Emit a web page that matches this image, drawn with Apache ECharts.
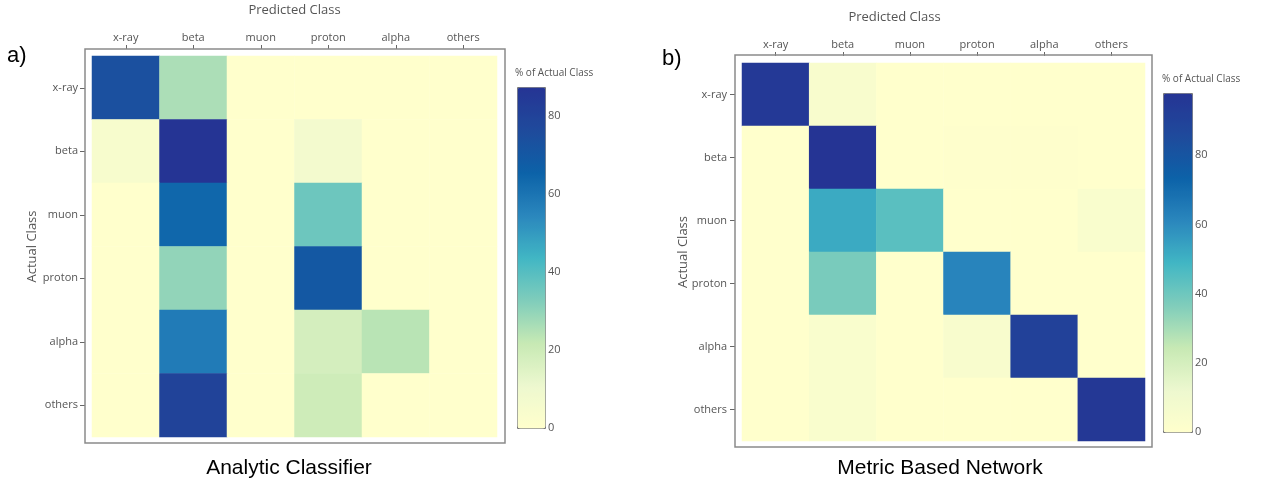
<!DOCTYPE html>
<html>
<head>
<meta charset="utf-8">
<script src="https://cdn.jsdelivr.net/npm/echarts@6/dist/echarts.min.js"></script>
<style>
html,body{margin:0;padding:0;background:#fff;}
#chart{width:1263px;height:486px;}
</style>
</head>
<body>
<div id="chart"></div>
<script>
// ---- data ----
var classes = ['x-ray', 'beta', 'muon', 'proton', 'alpha', 'others'];
// rows = actual class, columns = predicted class (% of actual class)
var analyticXray   = [74, 26, 0, 0, 0, 0];
var analyticBeta   = [5, 87.5, 0, 7.5, 0, 0];
var analyticMuon   = [0, 64, 0, 36, 0, 0];
var analyticProton = [0, 30, 0, 70, 0, 0];
var analyticAlpha  = [0, 58, 0, 18, 24, 0];
var analyticOthers = [0, 80, 0, 20, 0, 0];

var metricXray   = [95, 5, 0, 0, 0, 0];
var metricBeta   = [0, 98, 0, 1, 1, 0];
var metricMuon   = [0, 52, 44, 0, 0, 4];
var metricProton = [0, 38, 0, 62, 0, 0];
var metricAlpha  = [0, 4, 0, 5, 91, 0];
var metricOthers = [0, 4, 0, 0, 0, 96];

var analyticMax = 87.5;
var metricMax = 98;
var colorbarTicks = [0, 20, 40, 60, 80];

var analyticRows = [analyticXray, analyticBeta, analyticMuon, analyticProton, analyticAlpha, analyticOthers];
var metricRows = [metricXray, metricBeta, metricMuon, metricProton, metricAlpha, metricOthers];

function toCells(rows) {
  var out = [];
  rows.forEach(function (row, r) {
    row.forEach(function (v, c) { out.push([c, r, v]); });
  });
  return out;
}

var palette = ['#ffffcc', '#edf8cf', '#c7e9b4', '#7fcdbb', '#41b6c4', '#2a86bd', '#0c62a8', '#1f4a9c', '#253494'];
var labelColor = '#555';
var fontFam = '"Open Sans", "DejaVu Sans", sans-serif';

var chart = echarts.init(document.getElementById('chart'));

function catX(gi, name, namePad) {
  return {
    type: 'category', gridIndex: gi, data: classes, position: 'top', offset: 7,
    axisLine: {show: false},
    axisTick: {show: true, alignWithLabel: true, length: 4, lineStyle: {color: '#666'}},
    axisLabel: {color: labelColor, fontSize: 11, margin: 6, fontFamily: fontFam},
    splitLine: {show: false},
    name: name, nameLocation: 'middle', nameGap: 32, nameMoveOverlap: false,
    nameTextStyle: {color: labelColor, fontSize: 13, fontFamily: fontFam, padding: namePad}
  };
}
function catY(gi, gap, margin) {
  return {
    type: 'category', gridIndex: gi, data: classes, inverse: true, position: 'left', offset: 7,
    axisLine: {show: false},
    axisTick: {show: true, alignWithLabel: true, length: 5, lineStyle: {color: '#666'}},
    axisLabel: {color: labelColor, fontSize: 11, margin: margin, fontFamily: fontFam},
    splitLine: {show: false},
    name: 'Actual Class', nameLocation: 'middle', nameGap: gap, nameRotate: 90, nameMoveOverlap: false,
    nameTextStyle: {color: labelColor, fontSize: 13, fontFamily: fontFam}
  };
}
function hiddenX(gi) { return {type: 'value', gridIndex: gi, show: false}; }
function hiddenY(gi) { return {type: 'value', gridIndex: gi, show: false}; }
function cbY(gi, max) {
  return {
    type: 'value', gridIndex: gi, position: 'right', min: 0, max: max, interval: 20,
    axisLine: {show: false}, axisTick: {show: false}, splitLine: {show: false},
    axisLabel: {color: labelColor, fontSize: 11, margin: 3, fontFamily: fontFam, showMaxLabel: false}
  };
}

var option = {
  backgroundColor: '#ffffff',
  animation: false,
  grid: [
    // heatmap plot areas
    {left: 92, top: 56, width: 405, height: 381, outerBoundsMode: 'none', containLabel: false},
    {left: 742, top: 63, width: 403, height: 378, outerBoundsMode: 'none', containLabel: false},
    // colorbar axes
    {left: 517, top: 87, width: 28, height: 341, outerBoundsMode: 'none', containLabel: false},
    {left: 1163, top: 93, width: 29, height: 339, outerBoundsMode: 'none', containLabel: false},
    // frames
    {left: 85, top: 49, width: 420, height: 394, show: true, borderColor: '#8a8a8a', borderWidth: 1.5, backgroundColor: 'transparent', z: 10, outerBoundsMode: 'none', containLabel: false},
    {left: 735, top: 55, width: 417, height: 392, show: true, borderColor: '#8a8a8a', borderWidth: 1.5, backgroundColor: 'transparent', z: 10, outerBoundsMode: 'none', containLabel: false}
  ],
  xAxis: [
    catX(0, 'Predicted Class', [0, 0, 0, 0]),
    catX(1, 'Predicted Class', [0, 98, 0, 0]),
    hiddenX(2), hiddenX(3), hiddenX(4), hiddenX(5)
  ],
  yAxis: [
    catY(0, 46, 7),
    catY(1, 45, 8),
    cbY(2, analyticMax),
    cbY(3, metricMax),
    hiddenY(4), hiddenY(5)
  ],
  visualMap: [
    {type: 'continuous', seriesIndex: 0, min: 0, max: analyticMax, calculable: false,
     left: 517, top: 87, itemWidth: 28, itemHeight: 341, padding: 0,
     borderColor: '#777', borderWidth: 1,
     inRange: {color: palette}},
    {type: 'continuous', seriesIndex: 1, min: 0, max: metricMax, calculable: false,
     left: 1163, top: 93, itemWidth: 29, itemHeight: 339, padding: 0,
     borderColor: '#777', borderWidth: 1,
     inRange: {color: palette}}
  ],
  series: [
    {type: 'heatmap', xAxisIndex: 0, yAxisIndex: 0, data: toCells(analyticRows),
     itemStyle: {borderWidth: 0}, emphasis: {disabled: true}},
    {type: 'heatmap', xAxisIndex: 1, yAxisIndex: 1, data: toCells(metricRows),
     itemStyle: {borderWidth: 0}, emphasis: {disabled: true}}
  ],
  graphic: [
    {type: 'text', left: 7, top: 45, style: {text: 'a)', fontSize: 22, fontFamily: '"Liberation Sans", Arial, sans-serif', fill: '#000'}},
    {type: 'text', left: 662, top: 48, style: {text: 'b)', fontSize: 22, fontFamily: '"Liberation Sans", Arial, sans-serif', fill: '#000'}},
    {type: 'text', x: 289, y: 468, style: {text: 'Analytic Classifier', fontSize: 21, fontFamily: '"Liberation Sans", Arial, sans-serif', fill: '#000', textAlign: 'center', textVerticalAlign: 'middle'}},
    {type: 'text', x: 940, y: 468, style: {text: 'Metric Based Network', fontSize: 21, fontFamily: '"Liberation Sans", Arial, sans-serif', fill: '#000', textAlign: 'center', textVerticalAlign: 'middle'}},
    {type: 'text', x: 515, y: 73, style: {text: '% of Actual Class', fontSize: 10, fontFamily: fontFam, fill: labelColor, textVerticalAlign: 'middle'}},
    {type: 'text', x: 1162, y: 79, style: {text: '% of Actual Class', fontSize: 10, fontFamily: fontFam, fill: labelColor, textVerticalAlign: 'middle'}}
  ]
};
chart.setOption(option);
</script>
</body>
</html>
